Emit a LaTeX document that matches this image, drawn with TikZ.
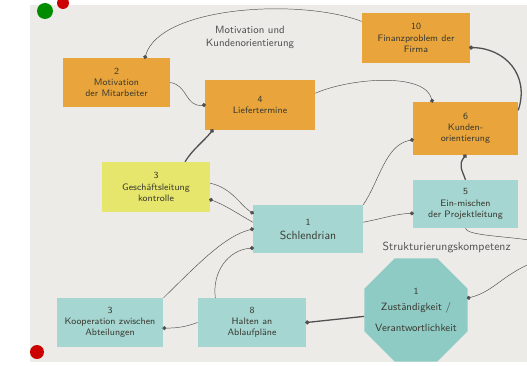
\documentclass[tikz,border=0pt]{standalone}
\usepackage{tikz}
\usetikzlibrary{arrows.meta, shapes.geometric}
\usepackage{amsmath}

\definecolor{paper}{HTML}{ECEBE8}
\definecolor{orangecard}{HTML}{E9A53B}
\definecolor{yellowcard}{HTML}{E6E66C}
\definecolor{tealcard}{HTML}{A5D6D2}
\definecolor{tealocta}{HTML}{8FCBC5}
\definecolor{ink}{HTML}{3A3A30}
\definecolor{pen}{HTML}{505050}

\begin{document}
\begin{tikzpicture}[x=0.3mm, y=-0.3mm,
  card/.style={rectangle, inner sep=2pt, align=center, text=ink, font=\sffamily\footnotesize},
  orangec/.style={card, fill=orangecard},
  yellowc/.style={card, fill=yellowcard},
  tealc/.style={card, fill=tealcard},
  con/.style={pen, -{Circle[length=3.5pt]}, shorten >=-1pt},
  strong/.style={con, line width=1.1pt}]
  \useasboundingbox (0,0) rectangle (527,365);
  \clip (0,0) rectangle (527,365);
  \fill[white] (0,0) rectangle (527,365);
  \fill[paper] (30,5) rectangle (540,362);
  \fill[green!55!black] (45,11) circle (8);
  \fill[red!80!black] (63,3) circle (6);
  \fill[red!80!black] (37,352) circle (7);

  \node[orangec, minimum width=3.2cm, minimum height=1.47cm] (motiv) at (116.5,82.5) {2\\Motivation\\der Mitarbeiter};
  \node[orangec, minimum width=3.24cm, minimum height=1.5cm] (fin) at (416,38) {10\\Finanzproblem der\\Firma};
  \node[orangec, minimum width=3.3cm, minimum height=1.5cm] (lief) at (260,105) {4\\Liefertermine};
  \node[orangec, minimum width=3.15cm, minimum height=1.6cm] (kund) at (465.5,128.5) {6\\Kunden-\\orientierung};
  \node[yellowc, minimum width=3.24cm, minimum height=1.5cm] (gesch) at (156,187) {3\\Geschäftsleitung\\kontrolle};
  \node[tealc, minimum width=3.3cm, minimum height=1.44cm, font=\sffamily\normalsize] (schl) at (308,229) {\footnotesize 1\\Schlendrian};
  \node[tealc, minimum width=3.15cm, minimum height=1.44cm] (einm) at (465.5,204) {5\\Ein-mischen\\der Projektleitung};
  \node[tealc, minimum width=3.2cm, minimum height=1.47cm] (koop) at (110,322.5) {3\\Kooperation zwischen\\Abteilungen};
  \node[tealc, minimum width=3.25cm, minimum height=1.47cm] (halt) at (252,322.5) {8\\Halten an\\Ablaufpläne};
  \node[regular polygon, regular polygon sides=8, fill=tealocta, inner sep=0pt, minimum size=3.35cm] (zust) at (416,310) {};
  \node[card, font=\sffamily\small] (zusttext) at (zust.center) {\footnotesize 1\\[2pt]Zuständigkeit /\\[7pt]Verantwortlichkeit};

  \node[card, text=pen, font=\sffamily\small] (motlab) at (250,37) {Motivation und\\Kundenorientierung};
  \node[card, text=pen, anchor=west, font=\sffamily\normalsize] (strlab) at (380,248) {Strukturierungskompetenz};

  \draw[con] (fin.163) .. controls (300,-2) and (160,6) .. (motiv.41);
  \draw[con] (motiv.east) .. controls (188,85) and (185,107) .. (lief.west);
  \draw[con] (lief.12) .. controls (350,78) and (425,72) .. (kund.141);
  \draw[strong] (kund.19) .. controls (530,75) and (505,48) .. (fin.-10);
  \draw[strong] (gesch.41) .. controls (192,150) and (205,140) .. (lief.208);
  \draw[con] (gesch.4) .. controls (232,188) and (240,205) .. (schl.164);
  \draw[con] (schl.173) .. controls (240,215) and (225,205) .. (gesch.-13);
  \draw[con] (koop.north east) .. controls (200,262) and (225,236) .. (schl.west);
  \draw[con] (halt.146) .. controls (212,272) and (228,250) .. (schl.199);
  \draw[con] (schl.north east) .. controls (380,180) and (385,145) .. (kund.192);
  \draw[con] (schl.7) .. controls (385,218) and (395,214) .. (einm.190);
  \draw[strong] (einm.north) .. controls (462,170) and (458,165) .. (kund.south);
  \draw[con] (einm.south) .. controls (468,242) and (600,232) .. (527,265) .. controls (500,278) and (492,292) .. (zust.13);
  \draw[strong] (zust.187) -- (halt.east);
  \draw[con] (halt.west) .. controls (185,327) and (178,328) .. (koop.-6);
\end{tikzpicture}
\end{document}
